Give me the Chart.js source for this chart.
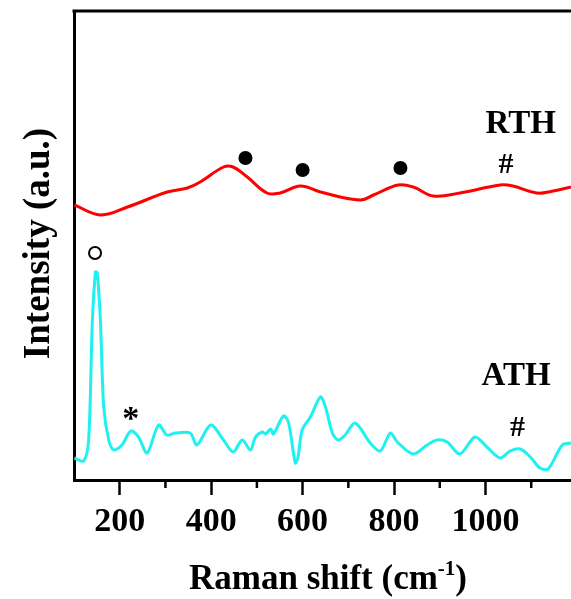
<!DOCTYPE html>
<html>
<head>
<meta charset="utf-8">
<script src="https://cdn.jsdelivr.net/npm/chart.js@4/dist/chart.umd.min.js"></script>
<style>
  html, body { margin: 0; padding: 0; background: #fff; overflow: hidden; }
</style>
</head>
<body>
<canvas id="ramanChart" width="571" height="599"></canvas>
<script>
// Raman shift (cm-1) and intensity (a.u., offset stacked)
const rthShift = [101, 158, 217, 304, 348, 376, 427, 448, 479, 522, 551, 595, 639, 726, 755, 809, 842, 886, 944, 1032, 1060, 1112, 1148, 1187];
const rthIntensity = [275, 265, 273, 288, 292, 298, 313, 313, 303, 287, 287, 294, 288, 280, 285, 295, 293, 284, 287, 295, 294, 287, 289, 293];

const athShift = [101, 121, 132, 140, 147, 151, 158, 165, 176, 187, 205, 224, 241, 260, 285, 303, 322, 354, 369, 399, 427, 448, 468, 486, 497, 512, 519, 530, 536, 558, 569, 584, 590, 599, 617, 639, 650, 665, 678, 693, 715, 748, 770, 792, 807, 842, 872, 894, 916, 944, 977, 1003, 1032, 1054, 1076, 1098, 1119, 1137, 1168, 1187];
const athIntensity = [22, 19, 40, 157, 208, 207, 157, 73, 40, 30, 35, 49, 43, 27, 55, 45, 47, 47, 35, 55, 40, 28, 40, 30, 43, 48, 46, 51, 46, 64, 58, 17, 23, 50, 63, 83, 73, 47, 40, 45, 57, 37, 29, 47, 38, 26, 35, 40, 38, 26, 43, 33, 22, 29, 31, 23, 12, 11, 35, 37];

const xTicks = [200, 400, 600, 800, 1000];
const xMinorTicks = [300, 500, 700, 900, 1100];

// peak markers
const filledDots = [{ x: 475, y: 322 }, { x: 600, y: 310 }, { x: 814, y: 312 }];
const openDots = [{ x: 146, y: 227 }];
const textMarks = [
    { text: 'RTH', x: 1077, y: 356, size: 33 },
    { text: 'ATH', x: 1067, y: 104, size: 33 },
    { text: '#', x: 1045, y: 315, size: 30 },
    { text: '#', x: 1070, y: 52, size: 30 },
    { text: '*', x: 224, y: 60, size: 34 }
];

const serif = '"Liberation Serif", "Times New Roman", serif';

const decorPlugin = {
    id: 'decor',
    afterDraw(chart) {
        const ctx = chart.ctx;
        const area = chart.chartArea;
        const xs = chart.scales.x;
        const ys = chart.scales.y;
        ctx.save();
        ctx.strokeStyle = '#000';
        // top frame line
        ctx.lineWidth = 3;
        ctx.beginPath();
        ctx.moveTo(area.left - 1.5, area.top);
        ctx.lineTo(area.right, area.top);
        ctx.stroke();
        // minor ticks
        ctx.lineWidth = 2.5;
        xMinorTicks.forEach(v => {
            const px = xs.getPixelForValue(v);
            ctx.beginPath();
            ctx.moveTo(px, area.bottom);
            ctx.lineTo(px, area.bottom + 8);
            ctx.stroke();
        });
        // text markers
        ctx.fillStyle = '#000';
        ctx.textAlign = 'center';
        ctx.textBaseline = 'middle';
        textMarks.forEach(m => {
            ctx.font = 'bold ' + m.size + 'px ' + serif;
            ctx.fillText(m.text, xs.getPixelForValue(m.x), ys.getPixelForValue(m.y));
        });
        // x title with superscript
        ctx.textBaseline = 'alphabetic';
        ctx.textAlign = 'left';
        const mainFont = 'bold 35px ' + serif;
        const supFont = 'bold 21px ' + serif;
        ctx.font = mainFont;
        const a = 'Raman shift (cm', c = ')';
        const wa = ctx.measureText(a).width;
        const wc = ctx.measureText(c).width;
        ctx.font = supFont;
        const b = '-1';
        const wb = ctx.measureText(b).width;
        const total = wa + wb + wc;
        const x0 = 328 - total / 2;
        const base = 589;
        ctx.font = mainFont;
        ctx.fillText(a, x0, base);
        ctx.font = supFont;
        ctx.fillText(b, x0 + wa, base - 14);
        ctx.font = mainFont;
        ctx.fillText(c, x0 + wa + wb, base);
        // y title
        ctx.translate(39, (area.top + area.bottom) / 2 - 2);
        ctx.rotate(-Math.PI / 2);
        ctx.textAlign = 'center';
        ctx.textBaseline = 'middle';
        ctx.font = 'bold 37px ' + serif;
        ctx.fillText('Intensity (a.u.)', 0, 0);
        ctx.restore();
    }
};

new Chart(document.getElementById('ramanChart'), {
    type: 'scatter',
    data: {
        datasets: [
            {
                label: 'RTH',
                data: rthShift.map((x, i) => ({ x: x, y: rthIntensity[i] })),
                showLine: true,
                borderColor: '#ff0000',
                borderWidth: 3,
                pointRadius: 0,
                tension: 0.4
            },
            {
                label: 'ATH',
                data: athShift.map((x, i) => ({ x: x, y: athIntensity[i] })),
                showLine: true,
                borderColor: '#1ff0f0',
                borderWidth: 3,
                pointRadius: 0,
                tension: 0.3
            },
            {
                label: 'filled',
                data: filledDots,
                pointRadius: 7,
                backgroundColor: '#000',
                borderColor: '#000',
                borderWidth: 0
            },
            {
                label: 'open',
                data: openDots,
                pointRadius: 6,
                backgroundColor: '#fff',
                borderColor: '#000',
                borderWidth: 2
            }
        ]
    },
    options: {
        responsive: false,
        animation: false,
        devicePixelRatio: 1,
        layout: { autoPadding: false, padding: { top: 11, right: 0, left: 0, bottom: 0 } },
        plugins: { legend: { display: false }, tooltip: { enabled: false } },
        scales: {
            x: {
                type: 'linear',
                min: 100,
                max: 1187,
                afterBuildTicks: s => { s.ticks = xTicks.map(v => ({ value: v })); },
                afterFit: s => { s.height = 119; },
                ticks: {
                    color: '#000',
                    padding: 7,
                    maxRotation: 0,
                    callback: v => String(v),
                    font: { family: serif, size: 34, weight: 'bold' }
                },
                grid: { drawOnChartArea: false, tickLength: 15, tickWidth: 2.5, tickColor: '#000' },
                border: { color: '#000', width: 3 }
            },
            y: {
                min: 0,
                max: 469,
                afterFit: s => { s.width = 74; },
                ticks: { display: false },
                grid: { drawOnChartArea: false, drawTicks: false },
                border: { color: '#000', width: 3 }
            }
        }
    },
    plugins: [decorPlugin]
});
</script>
</body>
</html>
